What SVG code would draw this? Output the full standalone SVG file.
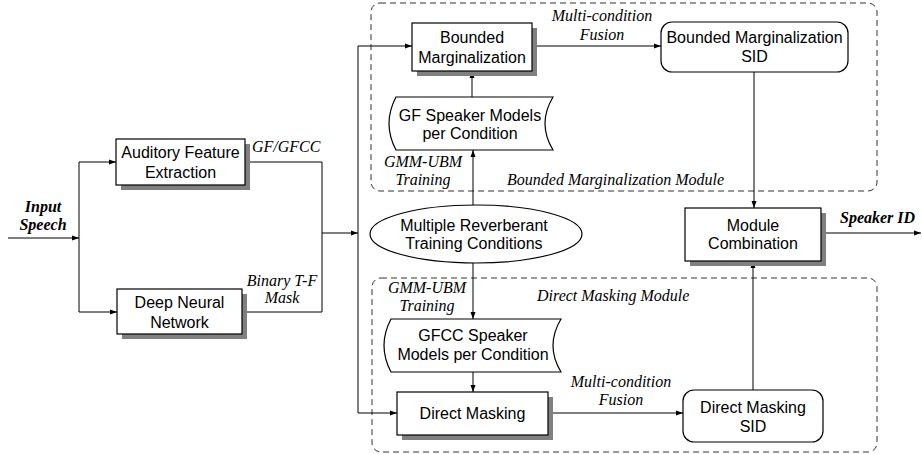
<svg xmlns="http://www.w3.org/2000/svg" width="922" height="454" viewBox="0 0 922 454">
<defs>
<marker id="ah" markerWidth="8" markerHeight="6" refX="7" refY="3" orient="auto" markerUnits="userSpaceOnUse">
<path d="M0,0.5 L7,3 L0,5.5 Z" fill="#000"/>
</marker>
<style>
.box{fill:#fff;stroke:#000;stroke-width:1.2}
.sh{fill:#808080}
.cont{fill:none;stroke:#333;stroke-width:1;stroke-dasharray:6 4}
.t{font-family:"Liberation Sans",Arial,sans-serif;font-size:16px;fill:#000;text-anchor:middle}
.it{font-family:"Liberation Serif","Times New Roman",serif;font-size:16px;font-style:italic;fill:#000}
.bi{font-family:"Liberation Serif","Times New Roman",serif;font-size:16px;font-style:italic;font-weight:bold;fill:#000}
.c{fill:none;stroke:#000;stroke-width:1}
.ca{fill:none;stroke:#000;stroke-width:1;marker-end:url(#ah)}
</style>
</defs>
<rect width="922" height="454" fill="#fff"/>

<g id="bm-module">
<rect class="cont" x="371" y="3" width="506" height="188" rx="9"/>
<text class="it" x="507" y="185">Bounded Marginalization Module</text>
</g>
<g id="dm-module">
<rect class="cont" x="372" y="278" width="505" height="174" rx="9"/>
<text class="it" x="537" y="301">Direct Masking Module</text>
</g>

<g id="connectors">
<path class="ca" d="M8,238 L79,238"/>
<path class="c" d="M79,162 L79,312"/>
<path class="ca" d="M79,162 L116,162"/>
<path class="ca" d="M79,312 L117,312"/>
<path class="c" d="M245,162 L322,162 L322,312 L242,312"/>
<path class="ca" d="M322,233 L358,233"/>
<path class="c" d="M358,46 L358,413"/>
<path class="ca" d="M358,46 L412,46"/>
<path class="ca" d="M358,413 L397,413"/>
<path class="ca" d="M532,46 L661,46"/>
<path class="ca" d="M472,97 L472,71"/>
<path class="ca" d="M473,205 L473,150"/>
<path class="ca" d="M473,263 L473,319"/>
<path class="ca" d="M473,372 L473,392"/>
<path class="ca" d="M548,413 L683,413"/>
<path class="ca" d="M754,72 L754,208"/>
<path class="ca" d="M753,390 L753,261"/>
<path class="ca" d="M821,233 L921,233"/>
<text class="bi" x="43" y="212" text-anchor="middle">Input</text>
<text class="bi" x="43" y="230" text-anchor="middle">Speech</text>
<text class="it" x="252" y="152">GF/GFCC</text>
<text class="it" x="282" y="286" text-anchor="middle">Binary T-F</text>
<text class="it" x="282" y="303" text-anchor="middle">Mask</text>
<text class="it" x="602" y="21" text-anchor="middle">Multi-condition</text>
<text class="it" x="602" y="40" text-anchor="middle">Fusion</text>
<text class="it" x="423" y="167" text-anchor="middle">GMM-UBM</text>
<text class="it" x="423" y="185" text-anchor="middle">Training</text>
<text class="it" x="427" y="293" text-anchor="middle">GMM-UBM</text>
<text class="it" x="427" y="311" text-anchor="middle">Training</text>
<text class="it" x="621" y="387" text-anchor="middle">Multi-condition</text>
<text class="it" x="621" y="405" text-anchor="middle">Fusion</text>
<text class="bi" x="840" y="223">Speaker ID</text>
</g>

<g id="auditory">
<rect class="sh" x="121" y="144" width="129" height="46"/>
<rect class="box" x="116" y="139" width="129" height="46"/>
<text class="t" x="180.5" y="158">Auditory Feature</text>
<text class="t" x="180.5" y="178">Extraction</text>
</g>

<g id="dnn">
<rect class="sh" x="122" y="294" width="125" height="45"/>
<rect class="box" x="117" y="289" width="125" height="45"/>
<text class="t" x="179.5" y="308">Deep Neural</text>
<text class="t" x="179.5" y="328">Network</text>
</g>

<g id="bm">
<rect class="sh" x="417" y="28" width="120" height="48"/>
<rect class="box" x="412" y="23" width="120" height="48"/>
<text class="t" x="472" y="43">Bounded</text>
<text class="t" x="472" y="63">Marginalization</text>
</g>

<g id="bm-sid">
<rect class="box" x="661" y="22" width="187" height="50" rx="11"/>
<text class="t" x="754.5" y="43">Bounded Marginalization</text>
<text class="t" x="754.5" y="62">SID</text>
</g>

<g id="gf-models">
<path class="box" d="M396,97 L553,97 Q537,123.5 553,150 L396,150 Q382,123.5 396,97 Z"/>
<text class="t" x="470" y="121">GF Speaker Models</text>
<text class="t" x="470" y="139">per Condition</text>
</g>

<g id="conditions">
<ellipse class="box" cx="476" cy="234" rx="106" ry="29"/>
<text class="t" x="474" y="231">Multiple Reverberant</text>
<text class="t" x="474" y="249">Training Conditions</text>
</g>

<g id="module-comb">
<rect class="sh" x="690" y="213" width="136" height="53"/>
<rect class="box" x="685" y="208" width="136" height="53"/>
<text class="t" x="753" y="231">Module</text>
<text class="t" x="753" y="249">Combination</text>
</g>

<g id="gfcc-models">
<path class="box" d="M391,319 L561,319 Q545,345.5 561,372 L391,372 Q377,345.5 391,319 Z"/>
<text class="t" x="473" y="341">GFCC Speaker</text>
<text class="t" x="473" y="360">Models per Condition</text>
</g>

<g id="dm">
<rect class="sh" x="402" y="397" width="151" height="43"/>
<rect class="box" x="397" y="392" width="151" height="43"/>
<text class="t" x="472.5" y="419">Direct Masking</text>
</g>

<g id="dm-sid">
<rect class="box" x="683" y="390" width="140" height="52" rx="11"/>
<text class="t" x="753" y="413">Direct Masking</text>
<text class="t" x="753" y="432">SID</text>
</g>
</svg>
